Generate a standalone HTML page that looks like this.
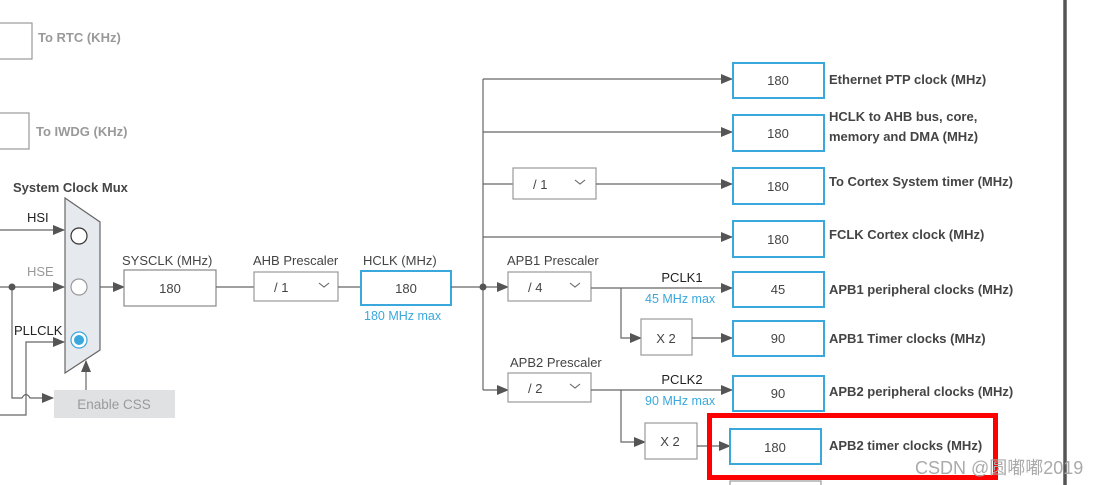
<!DOCTYPE html>
<html><head><meta charset="utf-8"><style>
html,body{margin:0;padding:0;background:#fff}
svg{display:block}
text{font-family:"Liberation Sans","Noto Sans CJK SC",sans-serif}
.b{font-weight:bold;fill:#444;font-size:13px}
.n{fill:#444;font-size:13px}
.bl{fill:#3aa8dc;font-size:12.5px}
</style></head><body>
<svg width="1102" height="485" viewBox="0 0 1102 485" xmlns="http://www.w3.org/2000/svg">
<defs><marker id="a" markerWidth="12" markerHeight="12" refX="11" refY="6" orient="auto" markerUnits="userSpaceOnUse"><path d="M0,1 L12,6 L0,11 z" fill="#555"/></marker></defs>
<g fill="none" stroke="#666" stroke-width="1.2">
<rect x="-2" y="23" width="34" height="36" stroke="#999"/>
<rect x="-2" y="113" width="31" height="36" stroke="#999"/>
<line x1="0" y1="230" x2="64" y2="230" marker-end="url(#a)"/>
<line x1="0" y1="287" x2="64" y2="287" marker-end="url(#a)"/>
<path d="M12,287 V398 H22 q4,-7 8,0 H53" marker-end="url(#a)"/>
<path d="M0,415 H26 V342 H64" marker-end="url(#a)"/>
<line x1="86" y1="390" x2="86" y2="361" marker-end="url(#a)"/>
<polygon points="65,198 100,222 100,350 65,373" fill="#e6e9ee" stroke="#666"/>
<circle cx="79" cy="236" r="8" stroke="#333" fill="#fff"/>
<circle cx="79" cy="287" r="8" stroke="#999" fill="#fff"/>
<circle cx="79" cy="340" r="8" stroke="#3aa8dc" fill="#fff"/>
<line x1="100" y1="287" x2="124" y2="287" marker-end="url(#a)"/>
<rect x="124" y="270" width="92" height="36" stroke="#888" fill="#fff"/>
<line x1="216" y1="287" x2="254" y2="287"/>
<rect x="254" y="272" width="84" height="29" stroke="#999" fill="#fff"/>
<line x1="338" y1="287" x2="361" y2="287"/>
<rect x="361" y="271" width="90" height="34" stroke="#3aa8dc" stroke-width="2" fill="#fff"/>
<line x1="451" y1="287" x2="483" y2="287"/>
<line x1="483" y1="79" x2="483" y2="390"/>
<line x1="483" y1="79" x2="732" y2="79" marker-end="url(#a)"/>
<line x1="483" y1="132" x2="732" y2="132" marker-end="url(#a)"/>
<line x1="483" y1="184" x2="513" y2="184"/>
<rect x="513" y="168" width="83" height="31" stroke="#999" fill="#fff"/>
<line x1="596" y1="184" x2="732" y2="184" marker-end="url(#a)"/>
<line x1="483" y1="237" x2="732" y2="237" marker-end="url(#a)"/>
<line x1="483" y1="287" x2="508" y2="287" marker-end="url(#a)"/>
<line x1="483" y1="390" x2="508" y2="390" marker-end="url(#a)"/>
<rect x="508" y="272" width="83" height="29" stroke="#999" fill="#fff"/>
<rect x="508" y="373" width="83" height="29" stroke="#999" fill="#fff"/>
<line x1="591" y1="288" x2="732" y2="288" marker-end="url(#a)"/>
<path d="M621,288 V338 H641" marker-end="url(#a)"/>
<rect x="641" y="319" width="51" height="36" stroke="#999" fill="#fff"/>
<line x1="692" y1="338" x2="732" y2="338" marker-end="url(#a)"/>
<line x1="591" y1="390" x2="732" y2="390" marker-end="url(#a)"/>
<path d="M621,390 V442 H645" marker-end="url(#a)"/>
<rect x="645" y="423" width="52" height="36" stroke="#999" fill="#fff"/>
<line x1="697" y1="446" x2="730" y2="446" marker-end="url(#a)"/>
<g stroke="#3aa8dc" stroke-width="2" fill="#fff">
<rect x="733" y="63" width="91" height="35"/>
<rect x="733" y="115" width="91" height="36"/>
<rect x="733" y="168" width="91" height="36"/>
<rect x="733" y="221" width="91" height="36"/>
<rect x="733" y="272" width="91" height="35"/>
<rect x="733" y="321" width="91" height="35"/>
<rect x="733" y="376" width="91" height="35"/>
<rect x="730" y="429" width="91" height="35"/>
</g>
<rect x="730" y="481" width="91" height="10" stroke="#999"/>
<rect x="709.5" y="415.5" width="286" height="62" stroke="#f00" stroke-width="5"/>
<line x1="1065" y1="0" x2="1065" y2="485" stroke="#555" stroke-width="3.5"/>
</g>
<circle cx="12" cy="287" r="3.5" fill="#555"/>
<circle cx="483" cy="287" r="3.5" fill="#555"/>
<rect x="54" y="390" width="121" height="28" fill="#e0e1e3"/>
<text x="114" y="409" text-anchor="middle" font-size="13.5" fill="#9a9a9a">Enable CSS</text>
<circle cx="79" cy="340" r="5" fill="#3aa8dc"/>
<text x="38" y="42" class="b" style="fill:#999">To RTC (KHz)</text>
<text x="36" y="136" class="b" style="fill:#999">To IWDG (KHz)</text>
<text x="13" y="192" class="b">System Clock Mux</text>
<text x="27" y="222" class="n" style="fill:#222">HSI</text>
<text x="27" y="276" class="n" style="fill:#999">HSE</text>
<text x="14" y="335" class="n" style="fill:#222">PLLCLK</text>
<text x="122" y="265" class="n">SYSCLK (MHz)</text>
<text x="170" y="293" text-anchor="middle" class="n">180</text>
<text x="253" y="265" class="n">AHB Prescaler</text>
<text x="274" y="292" class="n">/ 1</text>
<text x="363" y="265" class="n">HCLK (MHz)</text>
<text x="406" y="293" text-anchor="middle" class="n">180</text>
<text x="364" y="320" class="bl">180 MHz max</text>
<text x="533" y="189" class="n">/ 1</text>
<text x="507" y="265" class="n">APB1 Prescaler</text>
<text x="528" y="292" class="n">/ 4</text>
<text x="510" y="367" class="n">APB2 Prescaler</text>
<text x="528" y="393" class="n">/ 2</text>
<g fill="none" stroke="#666" stroke-width="1.1">
<path d="M319,283 l5,4 l5,-4"/><path d="M575,180 l5,4 l5,-4"/><path d="M570,283 l5,4 l5,-4"/><path d="M570,384 l5,4 l5,-4"/>
</g>
<text x="682" y="282" text-anchor="middle" class="n" style="fill:#222">PCLK1</text>
<text x="645" y="303" class="bl">45 MHz max</text>
<text x="682" y="384" text-anchor="middle" class="n" style="fill:#222">PCLK2</text>
<text x="645" y="405" class="bl">90 MHz max</text>
<text x="666" y="343" text-anchor="middle" class="n">X 2</text>
<text x="670" y="446" text-anchor="middle" class="n">X 2</text>
<g class="n" text-anchor="middle">
<text x="778" y="85">180</text><text x="778" y="138">180</text><text x="778" y="191">180</text><text x="778" y="244">180</text>
<text x="778" y="294">45</text><text x="778" y="343">90</text><text x="778" y="398">90</text><text x="775" y="452">180</text>
</g>
<text x="829" y="84" class="b">Ethernet PTP clock (MHz)</text>
<text x="829" y="121" class="b">HCLK to AHB bus, core,</text>
<text x="829" y="141" class="b">memory and DMA (MHz)</text>
<text x="829" y="186" class="b">To Cortex System timer (MHz)</text>
<text x="829" y="239" class="b">FCLK Cortex clock (MHz)</text>
<text x="829" y="294" class="b">APB1 peripheral clocks (MHz)</text>
<text x="829" y="343" class="b">APB1 Timer clocks (MHz)</text>
<text x="829" y="396" class="b">APB2 peripheral clocks (MHz)</text>
<text x="829" y="450" class="b">APB2 timer clocks (MHz)</text>
<text x="915" y="474" font-size="18" fill="#aaa">CSDN @圆嘟嘟2019</text>
</svg>
</body></html>
